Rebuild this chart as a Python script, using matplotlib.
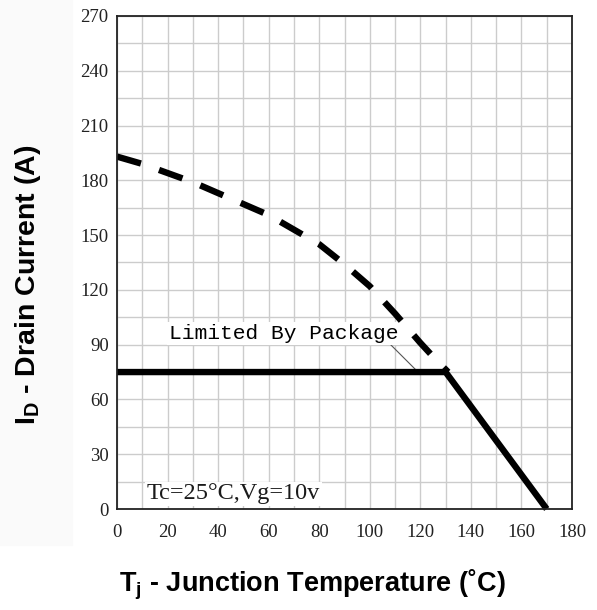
import matplotlib
matplotlib.use("Agg")
import matplotlib.pyplot as plt
import matplotlib.patches as patches
import numpy as np

# package limited current (solid) and silicon limited current (dashed)
temp_pkg = [0, 130, 170]
id_pkg = [75, 75, 0]

temp_si = [0, 10, 20, 30, 40, 50, 60, 70, 80, 90, 100, 110, 120, 126, 131]
id_si = [193, 189, 184, 179, 173, 167, 161, 153, 145, 134, 122, 107, 91, 82, 75]

x_ticks = [0, 20, 40, 60, 80, 100, 120, 140, 160, 180]
y_ticks = [0, 30, 60, 90, 120, 150, 180, 210, 240, 270]

plt.rcParams['mathtext.fontset'] = 'custom'
plt.rcParams['mathtext.rm'] = 'Liberation Sans:bold'
plt.rcParams['mathtext.it'] = 'Liberation Sans:bold'
plt.rcParams['mathtext.bf'] = 'Liberation Sans:bold'

fig = plt.figure(figsize=(5.97, 6.10), dpi=100)
fig.patch.set_facecolor('white')
# very faint grey strip at the left like the scanned original
fig.patches.append(patches.Rectangle((0, 1 - 545 / 610), 72 / 597, 545 / 610,
                                     transform=fig.transFigure, color='#fafafa', zorder=0))

ax = fig.add_axes([117 / 597, 1 - 509 / 610, 455 / 597, 493 / 610])
ax.set_xlim(0, 180)
ax.set_ylim(0, 270)

ax.set_xticks(x_ticks)
ax.set_yticks(y_ticks)
ax.set_xticks(np.arange(0, 181, 10), minor=True)
ax.set_yticks(np.arange(0, 271, 15), minor=True)
ax.grid(True, which='both', color='#cccccc', linewidth=1.0)
ax.set_axisbelow(True)
ax.tick_params(which='both', length=0)
ax.tick_params(axis='x', pad=11)
ax.tick_params(axis='y', pad=6)
for lab in ax.get_xticklabels() + ax.get_yticklabels():
    lab.set_fontfamily('Liberation Serif')
    lab.set_fontsize(13.5)
    lab.set_color('#222222')

for s in ax.spines.values():
    s.set_linewidth(1.3)
    s.set_color('#222222')
    s.set_zorder(5)

ax.plot(temp_pkg, id_pkg, color='black', linewidth=4.6, solid_capstyle='butt',
        solid_joinstyle='miter', zorder=4, clip_on=False)
ax.plot(temp_si, id_si, color='black', linewidth=4.6, dashes=(3.9, 3.0),
        dash_capstyle='butt', zorder=4)

# annotation with leader line
ax.plot([107.6, 118.3], [90.9, 76.1], color='#555555', linewidth=0.8, zorder=3)
ax.text(20.5, 96.2, "Limited By Package", fontfamily='Liberation Mono', fontsize=15.3,
        va='center', ha='left', color='#000000', zorder=3,
        bbox=dict(facecolor='white', edgecolor='none', pad=1.5))

ax.text(11.8, 8.4, "Tc=25°C,Vg=10v", fontfamily='Liberation Serif', fontsize=17.5,
        va='center', ha='left', color='#1a1a1a', zorder=3,
        bbox=dict(facecolor='white', edgecolor='none', pad=1.0))

fig.text(28 / 597, 1 - 285 / 610, r"I$_{\rm D}$ - Drain Current (A)", rotation=90,
         ha='center', va='center', fontsize=20.5, fontweight='bold',
         family=['Liberation Sans', 'DejaVu Sans'])
fig.text(312 / 597, 1 - 585 / 610, r"T$_{\rm j}$ - Junction Temperature (˚C)",
         ha='center', va='center', fontsize=19.5, fontweight='bold',
         family=['Liberation Sans', 'DejaVu Sans'])

fig.savefig("out.png", dpi=100, facecolor=fig.get_facecolor())
